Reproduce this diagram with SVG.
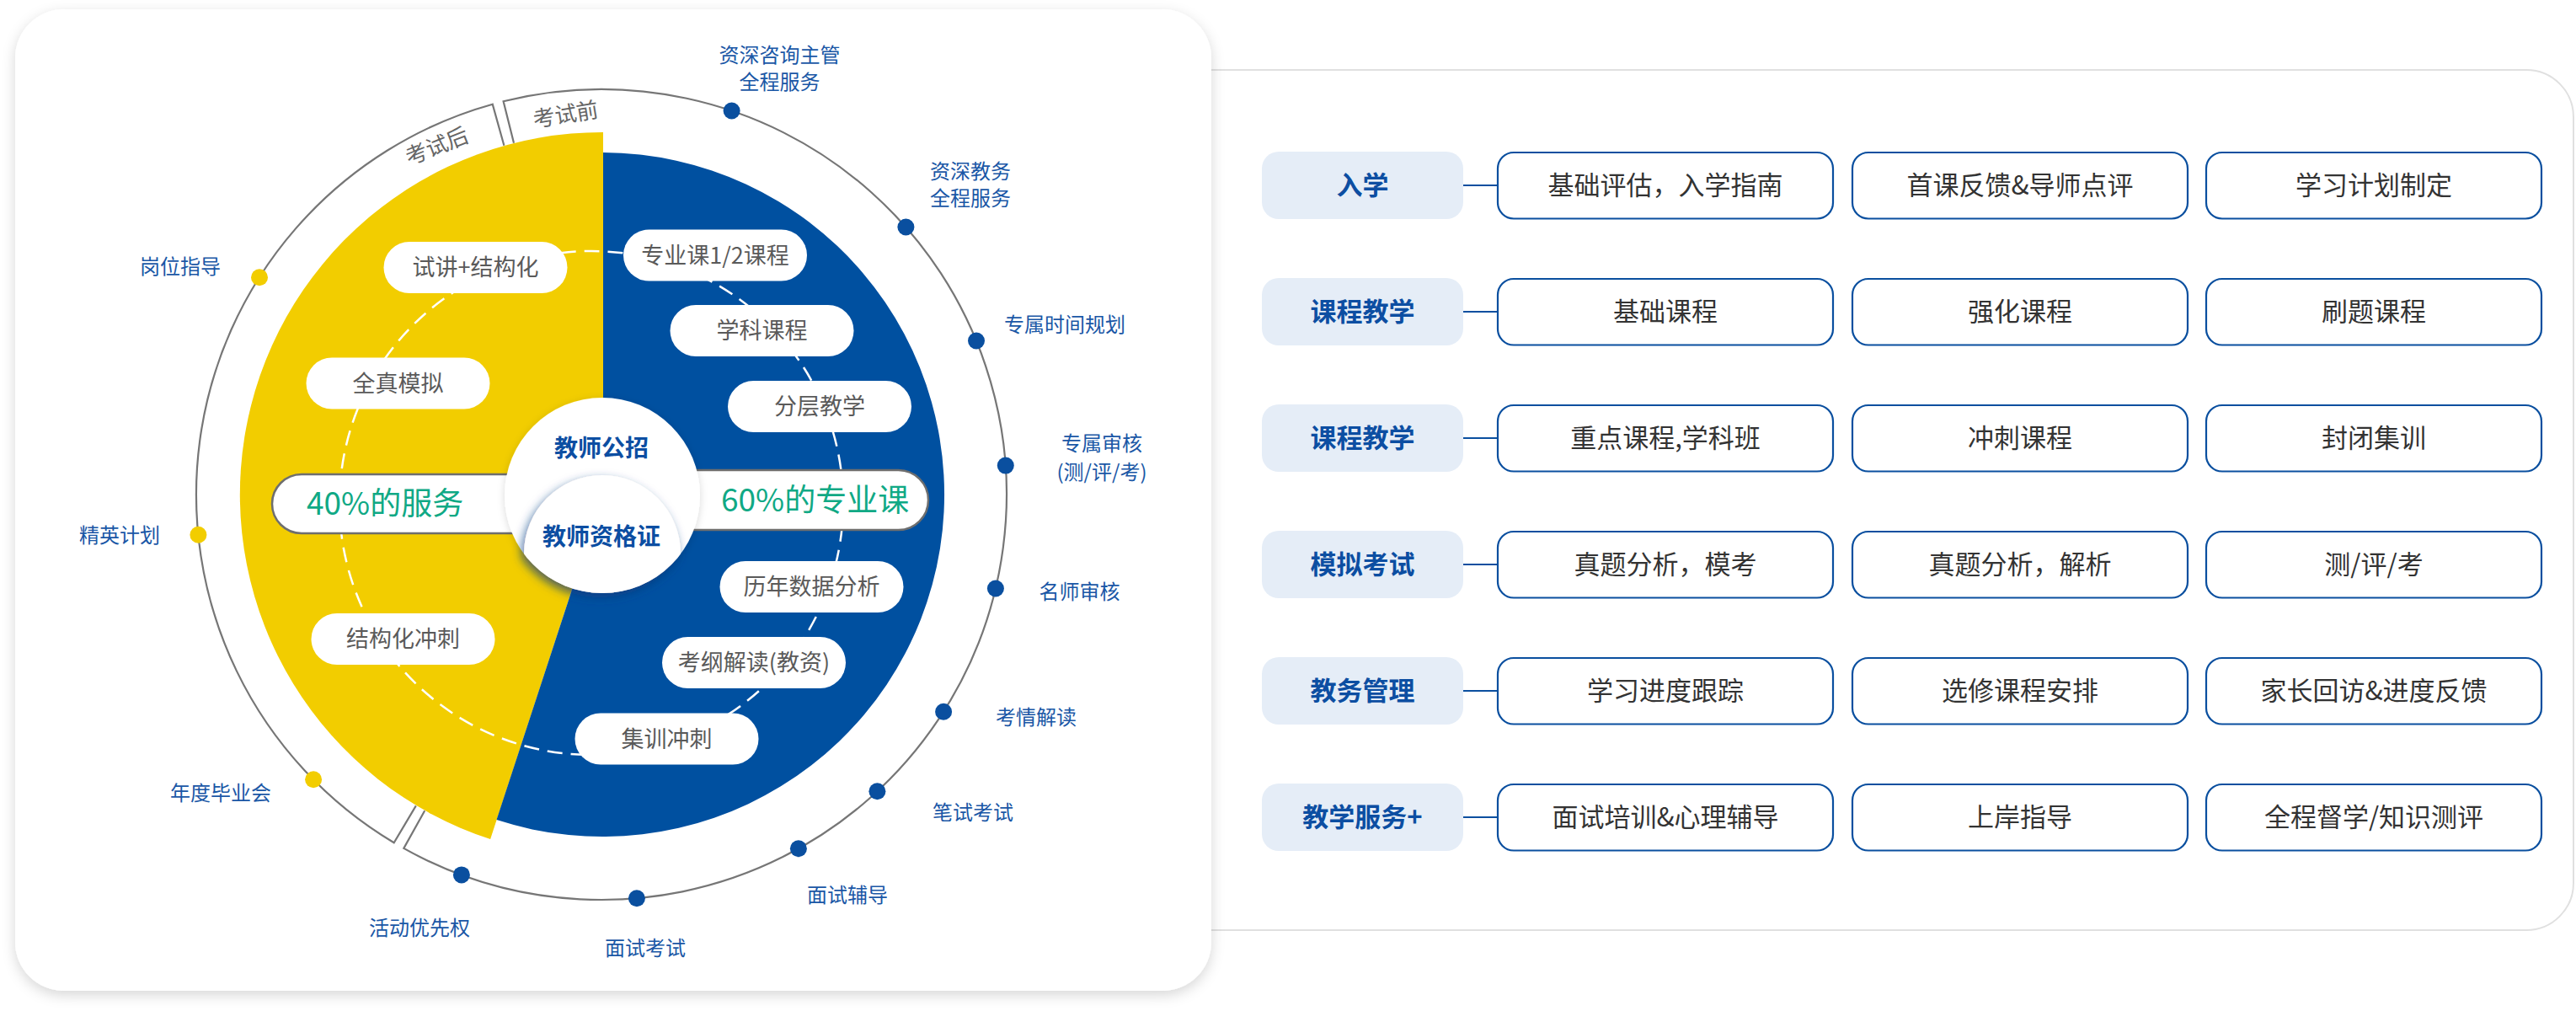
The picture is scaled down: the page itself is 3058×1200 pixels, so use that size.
<svg xmlns="http://www.w3.org/2000/svg" width="3058" height="1200" viewBox="0 0 3058 1200">
<style>
.cjk{font-family:"Noto Sans CJK SC","Noto Sans",sans-serif}
.ring{fill:none;stroke:#767676;stroke-width:2.2}
.dotb{fill:#0a4f9f}
.doty{fill:#f2cd00}
.lbl{font-family:"Noto Sans CJK SC","Noto Sans",sans-serif;font-size:24px;fill:#1a57a6;text-anchor:middle}
.pill{fill:#ffffff}
.ptxt{font-family:"Noto Sans CJK SC","Noto Sans",sans-serif;font-size:27px;fill:#5a5a5a;text-anchor:middle}
.big{fill:#ffffff;stroke:#6e6e6e;stroke-width:2.5}
.gtxt{font-family:"Noto Sans CJK SC","Noto Sans",sans-serif;font-size:37px;fill:#10a985}
.ctxt{font-family:"Noto Sans CJK SC","Noto Sans",sans-serif;font-size:28px;font-weight:bold;fill:#0c4ea2;text-anchor:middle}
.stage{font-family:"Noto Sans CJK SC","Noto Sans",sans-serif;font-size:26px;fill:#666666;text-anchor:middle}
.hbox{fill:#e5edf7}
.htxt{font-family:"Noto Sans CJK SC","Noto Sans",sans-serif;font-size:31px;font-weight:bold;fill:#0c4ea2;text-anchor:middle}
.ibox{fill:#ffffff;stroke:#0a4f9f;stroke-width:2.2}
.itxt{font-family:"Noto Sans CJK SC","Noto Sans",sans-serif;font-size:31px;fill:#333333;text-anchor:middle}
.conn{stroke:#0a4f9f;stroke-width:2.2;fill:none}
</style>
<defs>
<filter id="cardShadow" x="-5%" y="-5%" width="110%" height="110%">
<feDropShadow dx="0" dy="5" stdDeviation="8" flood-color="#000000" flood-opacity="0.16"/>
</filter>
<filter id="hubShadow" x="-30%" y="-30%" width="160%" height="160%">
<feDropShadow dx="0" dy="2" stdDeviation="5" flood-color="#000000" flood-opacity="0.15"/>
</filter>
<filter id="innerShadow" x="-30%" y="-30%" width="160%" height="160%">
<feDropShadow dx="-3" dy="5" stdDeviation="6" flood-color="#0a3f86" flood-opacity="0.7"/>
</filter>
<clipPath id="hubClip"><circle cx="715" cy="588" r="116"/></clipPath>
</defs>

<rect width="3058" height="1200" fill="#ffffff"/>

<g id="right-card">
<rect x="1380" y="83" width="1675" height="1021" rx="56" fill="#ffffff" stroke="#e0e0e0" stroke-width="2"/>
</g>

<g id="left-card">
<rect x="18" y="11" width="1420" height="1165" rx="58" fill="#ffffff" filter="url(#cardShadow)"/>
</g>

<g id="ring">
<path class="ring" d="M610,169.8 L597.6,120.3 A481,481 0 1 1 479.3,1006.9 L504.2,962.3"/>
<path class="ring" d="M493.8,956.4 L467.7,1000.2 A481,481 0 0 1 584.7,123.7 L598.4,172.8"/>
<text class="stage" transform="translate(673,145) rotate(-9.4)">考试前</text>
<text class="stage" transform="translate(522,182) rotate(-21.5)">考试后</text>
</g>

<g id="sectors">
<path d="M716,587 L582.1,996 A430,430 0 0 1 716,157 Z" fill="#f2cd00"/>
<path d="M716,587 L716,181 A406,406 0 1 1 589.5,973.1 Z" fill="#0050a0"/>
<circle cx="702" cy="597" r="299" fill="none" stroke="#ffffff" stroke-width="2.5" stroke-dasharray="18 10"/>
</g>

<g id="ring-dots">
<circle class="dotb" cx="868.6" cy="131.5" r="10"/>
<circle class="dotb" cx="1075.4" cy="269.5" r="10"/>
<circle class="dotb" cx="1159" cy="404.5" r="10"/>
<circle class="dotb" cx="1193.8" cy="552.6" r="10"/>
<circle class="dotb" cx="1181.9" cy="698.5" r="10"/>
<circle class="dotb" cx="1120.1" cy="844.7" r="10"/>
<circle class="dotb" cx="1041.4" cy="939.3" r="10"/>
<circle class="dotb" cx="947.9" cy="1007.3" r="10"/>
<circle class="dotb" cx="755.9" cy="1066.2" r="10"/>
<circle class="dotb" cx="547.9" cy="1038.4" r="10"/>
<circle class="doty" cx="372.1" cy="925.3" r="10"/>
<circle class="doty" cx="235.4" cy="634.8" r="10"/>
<circle class="doty" cx="308" cy="329.3" r="10"/>
</g>

<g id="ring-labels">
<text class="lbl" x="925.5" y="73.5">资深咨询主管</text>
<text class="lbl" x="925.5" y="105.5">全程服务</text>
<text class="lbl" x="1152" y="211.5">资深教务</text>
<text class="lbl" x="1152" y="243.5">全程服务</text>
<text class="lbl" x="1264" y="393.5">专属时间规划</text>
<text class="lbl" x="1308" y="535">专属审核</text>
<text class="lbl" x="1308" y="568.5">(测/评/考)</text>
<text class="lbl" x="1281.5" y="710.5">名师审核</text>
<text class="lbl" x="1230" y="860">考情解读</text>
<text class="lbl" x="1155" y="972.5">笔试考试</text>
<text class="lbl" x="1006" y="1070.5">面试辅导</text>
<text class="lbl" x="766" y="1133.5">面试考试</text>
<text class="lbl" x="498" y="1110">活动优先权</text>
<text class="lbl" x="262" y="950">年度毕业会</text>
<text class="lbl" x="142" y="643.5">精英计划</text>
<text class="lbl" x="214" y="324.5">岗位指导</text>
</g>

<g id="pill-shijiang"><rect class="pill" x="455.5" y="287" width="218" height="61" rx="30.5"/><text class="ptxt" x="564.5" y="327">试讲+结构化</text></g>
<g id="pill-quanzhen"><rect class="pill" x="363.5" y="424.5" width="218" height="61" rx="30.5"/><text class="ptxt" x="472.5" y="464.5">全真模拟</text></g>
<g id="pill-jiegouhua"><rect class="pill" x="369.5" y="728" width="218" height="61" rx="30.5"/><text class="ptxt" x="478.5" y="768">结构化冲刺</text></g>
<g id="pill-zhuanye"><rect class="pill" x="740" y="272.5" width="218" height="61" rx="30.5"/><text class="ptxt" x="849" y="312.5">专业课1/2课程</text></g>
<g id="pill-xueke"><rect class="pill" x="795.5" y="362" width="218" height="61" rx="30.5"/><text class="ptxt" x="904.5" y="402">学科课程</text></g>
<g id="pill-fenceng"><rect class="pill" x="864" y="452" width="218" height="61" rx="30.5"/><text class="ptxt" x="973" y="492">分层教学</text></g>
<g id="pill-linian"><rect class="pill" x="854.5" y="666" width="218" height="61" rx="30.5"/><text class="ptxt" x="963.5" y="706">历年数据分析</text></g>
<g id="pill-kaogang"><rect class="pill" x="786" y="756" width="218" height="61" rx="30.5"/><text class="ptxt" x="895" y="796">考纲解读(教资)</text></g>
<g id="pill-jixun"><rect class="pill" x="682.5" y="846.5" width="218" height="61" rx="30.5"/><text class="ptxt" x="791.5" y="886.5">集训冲刺</text></g>

<g id="pill-40">
<rect class="big" x="323" y="563" width="345" height="70" rx="35"/>
<text class="gtxt" x="364" y="611">40%的服务</text>
</g>
<g id="pill-60">
<rect class="big" x="765" y="558" width="337" height="71" rx="35.5"/>
<text class="gtxt" x="856" y="607">60%的专业课</text>
</g>

<g id="hub">
<circle cx="715" cy="588" r="116" fill="#ffffff" filter="url(#hubShadow)"/>
<g filter="url(#innerShadow)">
<circle cx="715" cy="657" r="93" fill="#ffffff" clip-path="url(#hubClip)"/>
</g>
<text class="ctxt" x="714" y="542">教师公招</text>
<text class="ctxt" x="714" y="647">教师资格证</text>
</g>

<g id="connectors">
<line class="conn" x1="1737" y1="220" x2="1778" y2="220"/>
<line class="conn" x1="1737" y1="370" x2="1778" y2="370"/>
<line class="conn" x1="1737" y1="520" x2="1778" y2="520"/>
<line class="conn" x1="1737" y1="670" x2="1778" y2="670"/>
<line class="conn" x1="1737" y1="820" x2="1778" y2="820"/>
<line class="conn" x1="1737" y1="970" x2="1778" y2="970"/>
</g>

<g id="row-1">
<rect class="hbox" x="1498" y="180" width="239" height="80" rx="20"/><text class="htxt" x="1617.5" y="231">入学</text>
<rect class="ibox" x="1778" y="181" width="398" height="78.5" rx="19"/><text class="itxt" x="1977" y="231">基础评估，入学指南</text>
<rect class="ibox" x="2199" y="181" width="398" height="78.5" rx="19"/><text class="itxt" x="2398" y="231">首课反馈&amp;导师点评</text>
<rect class="ibox" x="2619" y="181" width="398" height="78.5" rx="19"/><text class="itxt" x="2818" y="231">学习计划制定</text>
</g>
<g id="row-2">
<rect class="hbox" x="1498" y="330" width="239" height="80" rx="20"/><text class="htxt" x="1617.5" y="381">课程教学</text>
<rect class="ibox" x="1778" y="331" width="398" height="78.5" rx="19"/><text class="itxt" x="1977" y="381">基础课程</text>
<rect class="ibox" x="2199" y="331" width="398" height="78.5" rx="19"/><text class="itxt" x="2398" y="381">强化课程</text>
<rect class="ibox" x="2619" y="331" width="398" height="78.5" rx="19"/><text class="itxt" x="2818" y="381">刷题课程</text>
</g>
<g id="row-3">
<rect class="hbox" x="1498" y="480" width="239" height="80" rx="20"/><text class="htxt" x="1617.5" y="531">课程教学</text>
<rect class="ibox" x="1778" y="481" width="398" height="78.5" rx="19"/><text class="itxt" x="1977" y="531">重点课程,学科班</text>
<rect class="ibox" x="2199" y="481" width="398" height="78.5" rx="19"/><text class="itxt" x="2398" y="531">冲刺课程</text>
<rect class="ibox" x="2619" y="481" width="398" height="78.5" rx="19"/><text class="itxt" x="2818" y="531">封闭集训</text>
</g>
<g id="row-4">
<rect class="hbox" x="1498" y="630" width="239" height="80" rx="20"/><text class="htxt" x="1617.5" y="681">模拟考试</text>
<rect class="ibox" x="1778" y="631" width="398" height="78.5" rx="19"/><text class="itxt" x="1977" y="681">真题分析，模考</text>
<rect class="ibox" x="2199" y="631" width="398" height="78.5" rx="19"/><text class="itxt" x="2398" y="681">真题分析，解析</text>
<rect class="ibox" x="2619" y="631" width="398" height="78.5" rx="19"/><text class="itxt" x="2818" y="681">测/评/考</text>
</g>
<g id="row-5">
<rect class="hbox" x="1498" y="780" width="239" height="80" rx="20"/><text class="htxt" x="1617.5" y="831">教务管理</text>
<rect class="ibox" x="1778" y="781" width="398" height="78.5" rx="19"/><text class="itxt" x="1977" y="831">学习进度跟踪</text>
<rect class="ibox" x="2199" y="781" width="398" height="78.5" rx="19"/><text class="itxt" x="2398" y="831">选修课程安排</text>
<rect class="ibox" x="2619" y="781" width="398" height="78.5" rx="19"/><text class="itxt" x="2818" y="831">家长回访&amp;进度反馈</text>
</g>
<g id="row-6">
<rect class="hbox" x="1498" y="930" width="239" height="80" rx="20"/><text class="htxt" x="1617.5" y="981">教学服务+</text>
<rect class="ibox" x="1778" y="931" width="398" height="78.5" rx="19"/><text class="itxt" x="1977" y="981">面试培训&amp;心理辅导</text>
<rect class="ibox" x="2199" y="931" width="398" height="78.5" rx="19"/><text class="itxt" x="2398" y="981">上岸指导</text>
<rect class="ibox" x="2619" y="931" width="398" height="78.5" rx="19"/><text class="itxt" x="2818" y="981">全程督学/知识测评</text>
</g>
</svg>
